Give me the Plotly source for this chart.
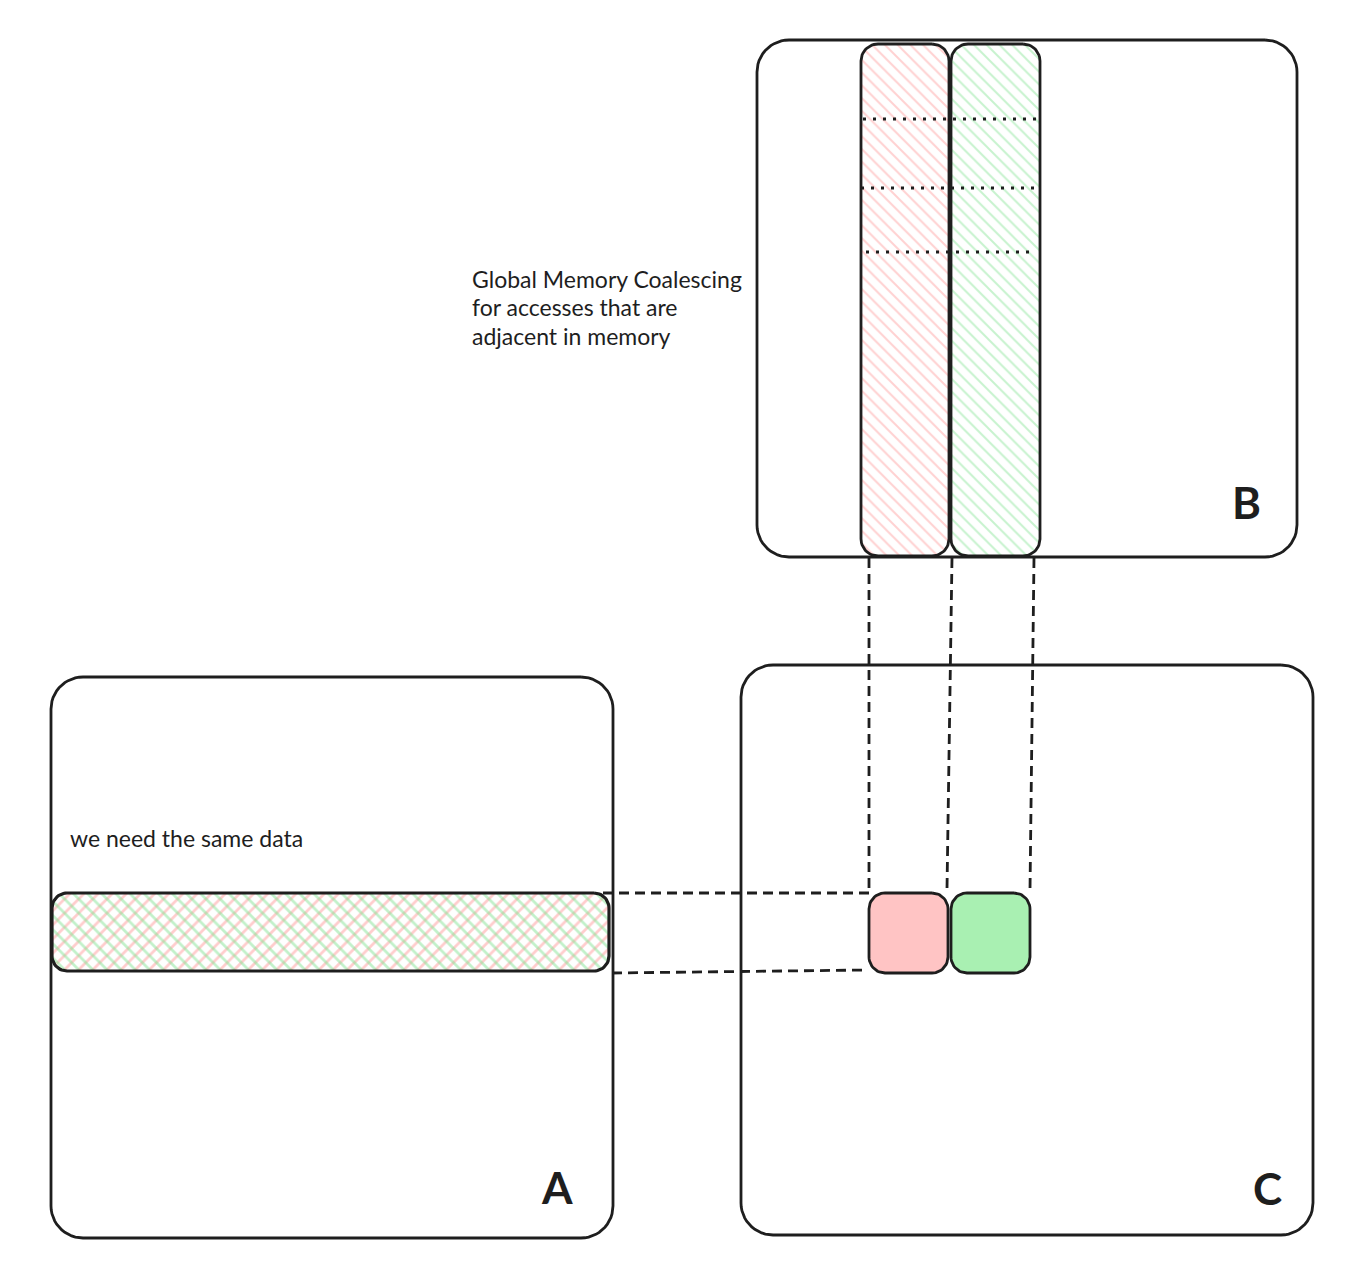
import numpy as np
import plotly.graph_objects as go

# canvas in pixels, y grows downward (page has an 8px body margin)
W, H = 1358, 1288
PAD = 8
INK = "#1e1e1e"

# boxes: [x0, y0, x1, y1, corner radius]
box_a = [51, 677, 613, 1238, 32]
box_b = [757, 40, 1297, 557, 32]
box_c = [741, 665, 1313, 1235, 32]
col_red = [861, 44, 949, 556, 17]
col_green = [951, 44, 1040, 556, 17]
row_a = [52, 893, 609, 971, 15]
cell_red = [869, 893, 948, 973, 16]
cell_green = [951, 893, 1030, 973, 16]

# dotted separators inside the B columns: [y, x_start, x_end]
dot_rows = [[119, 863, 1040], [188, 861, 1038], [252, 866, 1033]]

# dashed guide lines: [x0, y0, x1, y1]
guides = [
    [869, 558, 869, 893],
    [952, 558, 947, 889],
    [1034, 558, 1030, 890],
    [603, 893, 869, 893],
    [612, 973, 866, 970],
]

# labels
matrix_names = ["A", "B", "C"]
matrix_label_xy = [[557, 1187], [1246, 502], [1267, 1188]]
note_lines = ["Global Memory Coalescing", "for accesses that are", "adjacent in memory"]
note_y = [279, 307, 336]
note_a = "we need the same data"


def rounded(b, n=14):
    x0, y0, x1, y1, r = b
    xs, ys = [], []
    for cx, cy, a0 in [(x1 - r, y0 + r, -90), (x1 - r, y1 - r, 0),
                       (x0 + r, y1 - r, 90), (x0 + r, y0 + r, 180)]:
        t = np.radians(np.linspace(a0, a0 + 90, n))
        xs += list(cx + r * np.cos(t))
        ys += list(cy + r * np.sin(t))
    xs.append(xs[0])
    ys.append(ys[0])
    return xs, ys


fig = go.Figure()


def outline(b, width=2.8, fill=None):
    xs, ys = rounded(b)
    fig.add_trace(go.Scatter(x=xs, y=ys, mode="lines",
                             line=dict(color=INK, width=width),
                             fill="toself" if fill else None,
                             fillcolor=fill, hoverinfo="skip"))


def hatch(b, shape, color, size, solidity=0.22):
    xs, ys = rounded(b)
    fig.add_trace(go.Scatter(x=xs, y=ys, mode="lines", line=dict(width=0),
                             fill="toself", fillcolor="rgba(0,0,0,0)",
                             fillpattern=dict(shape=shape, fgcolor=color,
                                              bgcolor="rgba(0,0,0,0)",
                                              size=size, solidity=solidity,
                                              fillmode="overlay"),
                             hoverinfo="skip"))


# hachure fills
hatch(col_red, "\\", "#ffa3a3", 9)
hatch(col_green, "\\", "#8fe69d", 9)
hatch(row_a, "/", "#ff9c9c", 10, 0.28)
hatch(row_a, "\\", "#86e395", 10, 0.28)

# big matrices
for b in [box_a, box_b, box_c]:
    outline(b)

# dashed guides
for x0, y0, x1, y1 in guides:
    fig.add_trace(go.Scatter(x=[x0, x1], y=[y0, y1], mode="lines",
                             line=dict(color=INK, width=2.8, dash="10px,6px"),
                             hoverinfo="skip"))

# dotted rows
for y, xa, xb in dot_rows:
    fig.add_trace(go.Scatter(x=[xa, xb], y=[y, y], mode="lines",
                             line=dict(color=INK, width=3, dash="3px,7px"),
                             hoverinfo="skip"))

# columns, row and result cells
outline(col_red)
outline(col_green)
outline(row_a, width=3.2)
outline(cell_red, fill="#ffc4c4")
outline(cell_green, fill="#a9f0b2")

for name, (x, y) in zip(matrix_names, matrix_label_xy):
    fig.add_annotation(x=x, y=y, text="<b>" + name + "</b>", showarrow=False,
                       font=dict(family="Lato", size=44, color=INK),
                       xanchor="center", yanchor="middle")

for line, y in zip(note_lines, note_y):
    fig.add_annotation(x=470, y=y, text=line, showarrow=False,
                       font=dict(family="Lato", size=23, color=INK),
                       xanchor="left", yanchor="middle")

fig.add_annotation(x=68, y=838, text=note_a, showarrow=False,
                   font=dict(family="Lato", size=23, color=INK),
                   xanchor="left", yanchor="middle")

fig.update_layout(
    width=W - 2 * PAD, height=H - 2 * PAD, showlegend=False,
    margin=dict(l=0, r=0, t=0, b=0),
    paper_bgcolor="white", plot_bgcolor="white",
    xaxis=dict(range=[PAD, W - PAD], visible=False, fixedrange=True),
    yaxis=dict(range=[H - PAD, PAD], visible=False, fixedrange=True),
)

fig.write_html("out.html")
